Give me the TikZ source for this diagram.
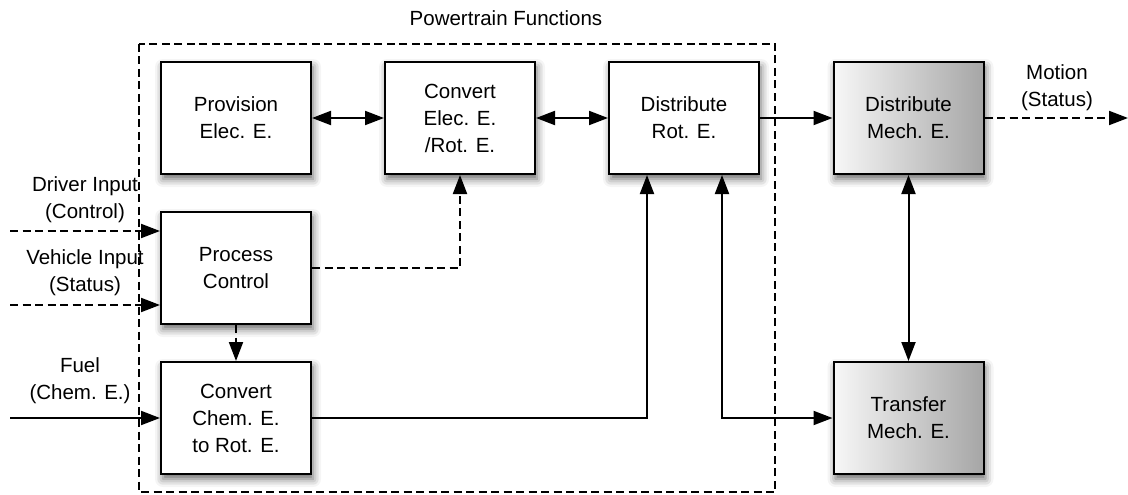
\documentclass[tikz,border=0pt]{standalone}
\usepackage{fontspec}
\setmainfont{Liberation Sans}
\usetikzlibrary{arrows.meta,shadows.blur,calc}
\begin{document}
\begin{tikzpicture}[x=1pt,y=-1pt,
  font=\fontsize{20.5}{27}\selectfont,
  fnbox/.style={draw=black, line width=2pt, minimum width=150pt, minimum height=112pt,
    inner sep=2pt, align=center, fill=white,
    blur shadow={shadow xshift=2pt, shadow yshift=-5pt, shadow blur radius=8pt, shadow opacity=60}},
  grbox/.style={fnbox, left color=black!3, right color=black!35},
  conn/.style={line width=2pt, -{Triangle[length=19pt,width=14pt]}},
  biconn/.style={line width=2pt, {Triangle[length=19pt,width=14pt]}-{Triangle[length=19pt,width=14pt]}},
  dsh/.style={dash pattern=on 8pt off 4.5pt},
  lbl/.style={align=center, inner sep=0pt}
]
\useasboundingbox (0,0) rectangle (1128,495);

% frame
\draw[line width=2pt, dsh] (139,44) rectangle (775,492);
\node[lbl] (title) at (506,18) {Powertrain Functions};

% boxes
\node[fnbox] (pe) at (236,118) {Provision\\Elec. E.};
\node[fnbox] (ce) at (460,118) {Convert\\Elec. E.\\/Rot. E.};
\node[fnbox] (dr) at (684,118) {Distribute\\Rot. E.};
\node[grbox] (dm) at (908.5,118) {Distribute\\Mech. E.};
\node[fnbox] (pc) at (236,268) {Process\\Control};
\node[fnbox] (cc) at (236,418) {Convert\\Chem. E.\\to Rot. E.};
\node[grbox] (tr) at (908.5,418) {Transfer\\Mech. E.};

% external coordinates
\coordinate (drvin) at (10,231);
\coordinate (vehin) at (10,305);
\coordinate (fuelin) at (10,418);
\coordinate (motout) at (1128,118);

% labels
\node[lbl] (drvlbl) at (85,200) {Driver Input\\(Control)};
\node[lbl] (vehlbl) at (85,273) {Vehicle Input\\(Status)};
\node[lbl] (fuellbl) at (80,381) {Fuel\\(Chem. E.)};
\node[lbl] (motlbl) at (1057,88) {Motion\\(Status)};

% connectors
\draw[biconn] (pe.east) -- (ce.west);
\draw[biconn] (ce.east) -- (dr.west);
\draw[conn] (dr.east) -- (dm.west);
\draw[conn, dsh] (dm.east) -- (motout);
\draw[biconn] (dm.south) -- (tr.north);
\draw[conn, dsh] (pc.east) -| (ce.south);
\draw[conn, dsh] (pc.south) -- (cc.north);
\draw[conn] (cc.east) -| ($(dr.south)+(-37,0)$);
\draw[biconn] ($(dr.south)+(38,0)$) |- (tr.west);
\draw[conn, dsh] (drvin) -- (drvin -| pc.west);
\draw[conn, dsh] (vehin) -- (vehin -| pc.west);
\draw[conn] (fuelin) -- (cc.west);
\end{tikzpicture}
\end{document}
